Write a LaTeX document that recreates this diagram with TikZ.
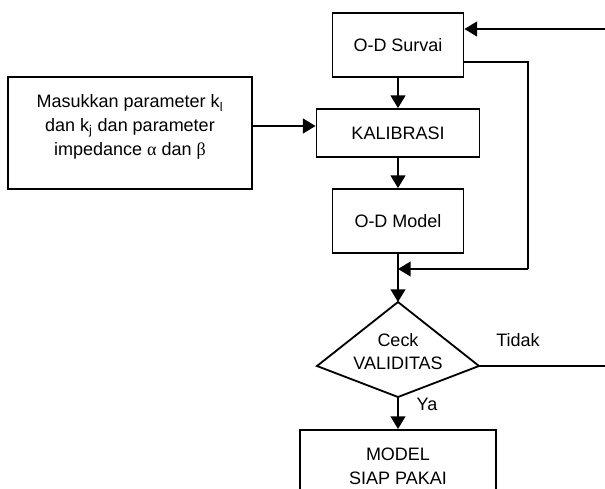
\documentclass[tikz,border=0pt]{standalone}
\usepackage{fontspec}
\setmainfont{Liberation Sans}
\newfontfamily\grkfont{Liberation Serif}
\usetikzlibrary{arrows.meta}

\begin{document}
\begin{tikzpicture}[
    box/.style={draw,line width=1.3pt,align=center,inner sep=0pt},
    arr/.style={line width=1.3pt,-{Triangle[length=9pt,width=10.5pt]}},
    txt/.style={align=center,font=\fontsize{12.8}{17}\selectfont}
  ]
      \useasboundingbox (0,0) rectangle (15.125,12.2);
      \clip (0,0) rectangle (15.125,12.2);
      \node[box,txt,minimum width=3.275cm,minimum height=1.6cm] (survai) at(9.95,11.075){O-D Survai};
      \node[box,txt,minimum width=4.075cm,minimum height=1.2cm] (kalib)  at(9.95,8.875){KALIBRASI};
      \node[box,txt,minimum width=3.275cm,minimum height=1.6cm] (odmodel) at(9.95,6.675){O-D Model};
      \node[box,minimum width=6.1cm,minimum height=2.8cm]       (param)  at(3.25,8.875){};
      \node[txt] (paramtxt) at(3.25,9.025){Masukkan parameter k\textsubscript{l}\\dan k\textsubscript{j} dan parameter\\impedance {\grkfont α} dan {\grkfont β}};
      \node[box,txt,minimum width=4.9cm,minimum height=1.8cm,anchor=north] (siap) at(9.95,1.475){MODEL\\SIAP PAKAI};

      \coordinate (ctop)   at(9.95,4.65);
      \coordinate (cleft)  at(7.925,3.05);
      \coordinate (cright) at(11.975,3.05);
      \coordinate (cbot)   at(9.95,2.275);
      \draw[line width=1.3pt] (ctop) -- (cright) -- (cbot) -- (cleft) -- cycle;
      \node[txt] (ceck) at(9.95,3.41){Ceck\\VALIDITAS};
      \node[txt] (tidak) at(12.95,3.7){Tidak};
      \node[txt] (ya) at(10.675,2.1){Ya};

      \coordinate (topin)  at(15.125,11.475);
      \coordinate (tidakout) at(15.125,3.05);
      \coordinate (loopr)  at(13.2,5.475);
      \coordinate (loopin) at(9.95,5.475);

      \draw[arr] (topin) -- ([yshift=0.4cm]survai.east);
      \draw[arr] (survai) -- (kalib);
      \draw[arr] (kalib) -- (odmodel);
      \draw[arr] ([yshift=0.175cm]param.east) -- ([yshift=0.175cm]kalib.west);
      \draw[line width=1.3pt] ([yshift=-0.425cm]survai.east) -| (loopr);
      \draw[arr] (loopr) -- (loopin);
      \draw[arr] (odmodel) -- (ctop);
      \draw[line width=0.8pt] (cright) -- (tidakout);
      \draw[arr] (cbot) -- (siap);
    \end{tikzpicture}
\end{document}
